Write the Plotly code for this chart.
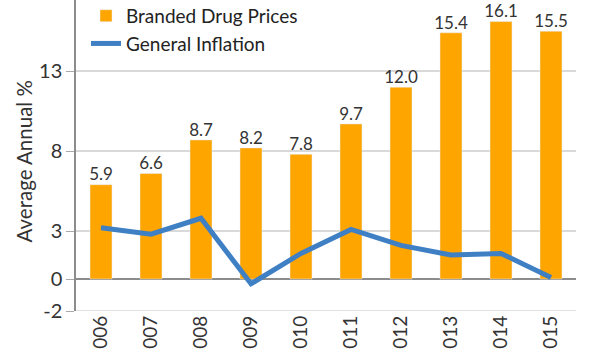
import plotly.graph_objects as go

years = ["2006", "2007", "2008", "2009", "2010", "2011", "2012", "2013", "2014", "2015"]
drug_prices = [5.9, 6.6, 8.7, 8.2, 7.8, 9.7, 12.0, 15.4, 16.1, 15.5]
inflation = [3.2, 2.8, 3.8, -0.3, 1.6, 3.1, 2.1, 1.5, 1.6, 0.1]
y_ticks = [-2, 0, 3, 8, 13]
y_tick_text = ["-2", "0", "3", "8", "13"]

FONT = "Lato"
fig = go.Figure()
fig.add_trace(go.Bar(
    x=years, y=drug_prices, name="Branded Drug Prices",
    marker_color="#FFA500", width=0.44,
))
fig.add_trace(go.Scatter(
    x=years, y=inflation, name="General Inflation", mode="lines",
    line=dict(color="#3F7FC4", width=5),
))
fig.add_trace(go.Scatter(
    x=years, y=drug_prices, mode="text", showlegend=False,
    text=[f"{v:.1f}" for v in drug_prices], textposition="top center",
    textfont=dict(size=17, color="#333333", family=FONT), cliponaxis=False,
    hoverinfo="skip",
))
fig.add_hline(y=-2, line_color="#D9D9D9", line_width=1.5, layer="below")
fig.add_annotation(
    text="Average Annual %", textangle=-90, showarrow=False,
    xref="paper", yref="paper", x=-0.103, y=0.479,
    xanchor="center", yanchor="middle",
    font=dict(size=20.5, color="#333333", family=FONT),
)
fig.update_layout(
    width=600, height=350,
    margin=dict(l=76, r=24, t=0, b=39, autoexpand=False),
    plot_bgcolor="white", paper_bgcolor="white",
    font=dict(family=FONT, color="#333333", size=18),
    showlegend=True,
    legend=dict(x=0.02, y=1.01, xanchor="left", yanchor="top",
                font=dict(size=19, color="#222222"), bgcolor="rgba(0,0,0,0)",
                traceorder="normal"),
    xaxis=dict(range=[-0.5, 9.5], tickangle=-90, tickfont=dict(size=19),
               showgrid=False, showline=False, ticks="", automargin=False),
    yaxis=dict(range=[-2, 17.45], tickvals=y_ticks, ticktext=y_tick_text,
               tickfont=dict(size=20), automargin=False,
               showgrid=True, gridcolor="#D9D9D9", gridwidth=1.5,
               zeroline=True, zerolinecolor="#8C8C8C", zerolinewidth=1.5,
               showline=True, linecolor="#8C8C8C", linewidth=1.5,
               ticks="outside", ticklen=8, tickcolor="#AAAAAA"),
)
fig.write_html("out.html")
